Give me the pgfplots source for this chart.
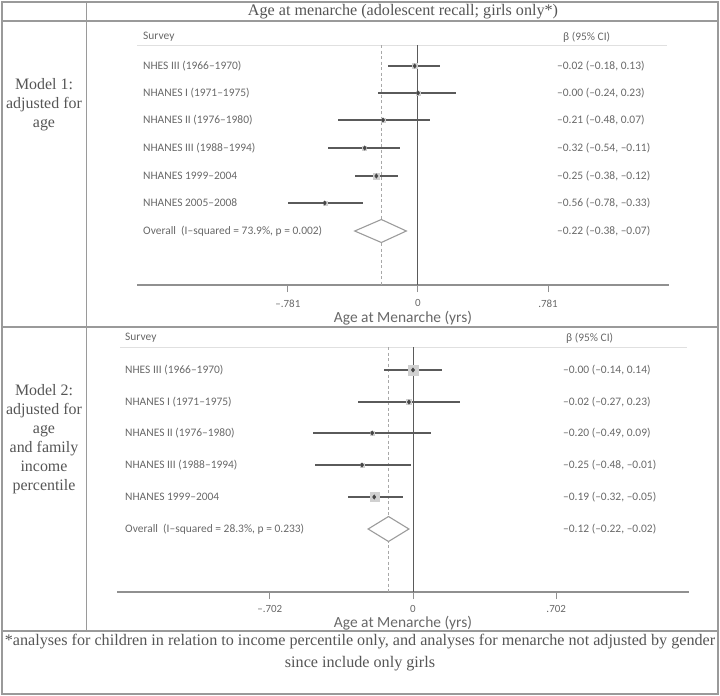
\documentclass[border=0pt]{standalone}
\usepackage{pgfplots}
\pgfplotsset{compat=1.18}
\usepackage{pgfplotstable}
\usepackage{fontspec}
\setmainfont{Liberation Serif}
\newfontfamily\plotfont{Carlito}

\definecolor{framec}{HTML}{9A9A9A}
\definecolor{txt}{HTML}{555555}
\definecolor{stxt}{HTML}{686868}
\definecolor{cic}{HTML}{5A5A5A}
\definecolor{ptc}{HTML}{454545}
\definecolor{axl}{HTML}{909090}
\definecolor{dashc}{HTML}{A8A8A8}
\definecolor{rulec}{HTML}{E0E0E0}
\definecolor{boxc}{HTML}{D0D0D0}
\definecolor{diam}{HTML}{9C9C9C}

% row = pixel row from the top, est/lo/hi = beta and 95% CI, box = weight box half size
\pgfplotstableread{
row est lo hi box
66 -0.02 -0.18 0.13 2.5
93 -0.00 -0.24 0.23 2
120 -0.21 -0.48 0.07 2
148 -0.32 -0.54 -0.11 2
176 -0.25 -0.38 -0.12 3
203 -0.56 -0.78 -0.33 2
}\modelone

\pgfplotstableread{
row est lo hi box
370 -0.00 -0.14 0.14 5
402 -0.02 -0.27 0.23 2.5
433 -0.20 -0.49 0.09 2
465 -0.25 -0.48 -0.01 2
497 -0.19 -0.32 -0.05 4.5
}\modeltwo

\pgfplotsset{
  forest/.style={
    scale only axis, clip=false,
    axis x line=bottom, axis y line=none,
    x axis line style={draw=axl, line width=1.2bp, -},
    xtick style={draw=axl, line width=1bp},
    tick align=outside, major tick length=7bp,
    xticklabel style={font=\plotfont\fontsize{11}{13}\selectfont, text=stxt, inner sep=1bp, yshift=-6.5bp},
    xlabel style={font=\plotfont\fontsize{15.5}{18}\selectfont, text=stxt, inner sep=0pt,
      at={(axis description cs:0.5,0)}, anchor=center, yshift=-33bp},
    xlabel={Age at Menarche (yrs)},
  },
  wbox/.style={scatter, only marks, mark=square*,
    scatter/use mapped color={draw=boxc, fill=boxc},
    visualization depends on={\thisrow{box} \as \bs},
    scatter/@pre marker code/.append style={/tikz/mark size=\bs bp}},
  cis/.style={only marks, mark=diamond*, mark size=2.2bp, color=ptc,
    error bars/.cd, x dir=both, x explicit, error mark=none,
    error bar style={draw=cic, line width=1.3bp}},
}

\begin{document}
\begin{tikzpicture}
\useasboundingbox (0,0) rectangle (720bp,-696bp);
\tikzset{lab/.style={font=\plotfont\fontsize{11.5}{13}\selectfont, text=stxt, anchor=west, inner sep=0pt},
         ser/.style={font=\fontsize{16}{19}\selectfont, text=txt, align=center, inner sep=0pt}}

% table frame
\draw[framec, line width=1.3bp] (2bp,-2bp) rectangle (718bp,-694bp);
\draw[framec, line width=1.3bp] (2bp,-21bp) -- (718bp,-21bp);
\draw[framec, line width=1.3bp] (2bp,-327bp) -- (718bp,-327bp);
\draw[framec, line width=1.3bp] (2bp,-631bp) -- (718bp,-631bp);
\draw[framec, line width=1bp] (86bp,-2bp) -- (86bp,-631bp);

\node[ser, font=\fontsize{16.2}{19}\selectfont] at (403bp,-12bp) {Age at menarche (adolescent recall; girls only*)};
\node[ser] at (44bp,-105bp) {Model 1:\\adjusted for\\age};
\node[ser] at (44bp,-439bp) {Model 2:\\adjusted for\\age\\and family\\income\\percentile};
\node[ser, font=\fontsize{16.2}{22}\selectfont] at (360bp,-653bp) {*analyses for children in relation to income percentile only, and analyses for menarche not adjusted by gender\\since include only girls};

% ---------- Model 1 ----------
\draw[rulec, line width=1bp] (137bp,-45bp) -- (667bp,-45bp);
\node[lab] at (143bp,-37bp) {Survey};
\node[lab] at (563bp,-37bp) {β (95\% CI)};
\node[lab] at (143bp,-66bp) {NHES III (1966–1970)};
\node[lab] at (143bp,-93bp) {NHANES I (1971–1975)};
\node[lab] at (143bp,-120bp) {NHANES II (1976–1980)};
\node[lab] at (143bp,-148bp) {NHANES III (1988–1994)};
\node[lab] at (143bp,-176bp) {NHANES 1999–2004};
\node[lab] at (143bp,-203bp) {NHANES 2005–2008};
\node[lab] at (143bp,-231bp) {Overall\ \ (I–squared = 73.9\%, p = 0.002)};
\node[lab] at (557bp,-66bp) {–0.02 (–0.18, 0.13)};
\node[lab] at (557bp,-93bp) {–0.00 (–0.24, 0.23)};
\node[lab] at (557bp,-120bp) {–0.21 (–0.48, 0.07)};
\node[lab] at (557bp,-148bp) {–0.32 (–0.54, –0.11)};
\node[lab] at (557bp,-176bp) {–0.25 (–0.38, –0.12)};
\node[lab] at (557bp,-203bp) {–0.56 (–0.78, –0.33)};
\node[lab] at (557bp,-231bp) {–0.22 (–0.38, –0.07)};

\begin{axis}[forest, at={(137bp,-285bp)}, anchor=south west,
  width=532bp, height=240bp,
  xmin=-1.687, xmax=1.507, ymin=-285, ymax=-45,
  xtick={-0.781,0,0.781}, xticklabels={–.781,0,.781}]
\addplot[dashc, line width=0.9bp, dash pattern=on 3bp off 2.5bp] coordinates {(-0.22,-45)(-0.22,-285)};
\addplot[draw=cic, line width=1bp] coordinates {(0,-45)(0,-285)};
\addplot[wbox] table[x=est, y expr=-\thisrow{row}] {\modelone};
\addplot[cis] table[x=est, y expr=-\thisrow{row},
  x error plus expr=\thisrow{hi}-\thisrow{est},
  x error minus expr=\thisrow{est}-\thisrow{lo}] {\modelone};
\addplot[draw=diam, line width=1.1bp, fill=white] coordinates {(-0.38,-231)(-0.22,-219.5)(-0.07,-231)(-0.22,-242.5)} -- cycle;
\end{axis}

% ---------- Model 2 ----------
\draw[rulec, line width=1bp] (120bp,-347bp) -- (687bp,-347bp);
\node[lab] at (125bp,-338bp) {Survey};
\node[lab] at (566bp,-338bp) {β (95\% CI)};
\node[lab] at (125bp,-370bp) {NHES III (1966–1970)};
\node[lab] at (125bp,-402bp) {NHANES I (1971–1975)};
\node[lab] at (125bp,-433bp) {NHANES II (1976–1980)};
\node[lab] at (125bp,-465bp) {NHANES III (1988–1994)};
\node[lab] at (125bp,-497bp) {NHANES 1999–2004};
\node[lab] at (125bp,-529bp) {Overall\ \ (I–squared = 28.3\%, p = 0.233)};
\node[lab] at (563bp,-370bp) {–0.00 (–0.14, 0.14)};
\node[lab] at (563bp,-402bp) {–0.02 (–0.27, 0.23)};
\node[lab] at (563bp,-433bp) {–0.20 (–0.49, 0.09)};
\node[lab] at (563bp,-465bp) {–0.25 (–0.48, –0.01)};
\node[lab] at (563bp,-497bp) {–0.19 (–0.32, –0.05)};
\node[lab] at (563bp,-529bp) {–0.12 (–0.22, –0.02)};

\begin{axis}[forest, at={(117bp,-592bp)}, anchor=south west,
  width=572bp, height=245bp,
  xmin=-1.451, xmax=1.353, ymin=-592, ymax=-347,
  xlabel style={yshift=2bp},
  xticklabel style={yshift=1.5bp},
  xtick={-0.702,0,0.702}, xticklabels={–.702,0,.702}]
\addplot[dashc, line width=0.9bp, dash pattern=on 3bp off 2.5bp] coordinates {(-0.12,-347)(-0.12,-592)};
\addplot[draw=cic, line width=1bp] coordinates {(0,-347)(0,-592)};
\addplot[wbox] table[x=est, y expr=-\thisrow{row}] {\modeltwo};
\addplot[cis] table[x=est, y expr=-\thisrow{row},
  x error plus expr=\thisrow{hi}-\thisrow{est},
  x error minus expr=\thisrow{est}-\thisrow{lo}] {\modeltwo};
\addplot[draw=diam, line width=1.1bp, fill=white] coordinates {(-0.22,-529)(-0.12,-516.5)(-0.02,-529)(-0.12,-541.5)} -- cycle;
\end{axis}
\end{tikzpicture}
\end{document}
